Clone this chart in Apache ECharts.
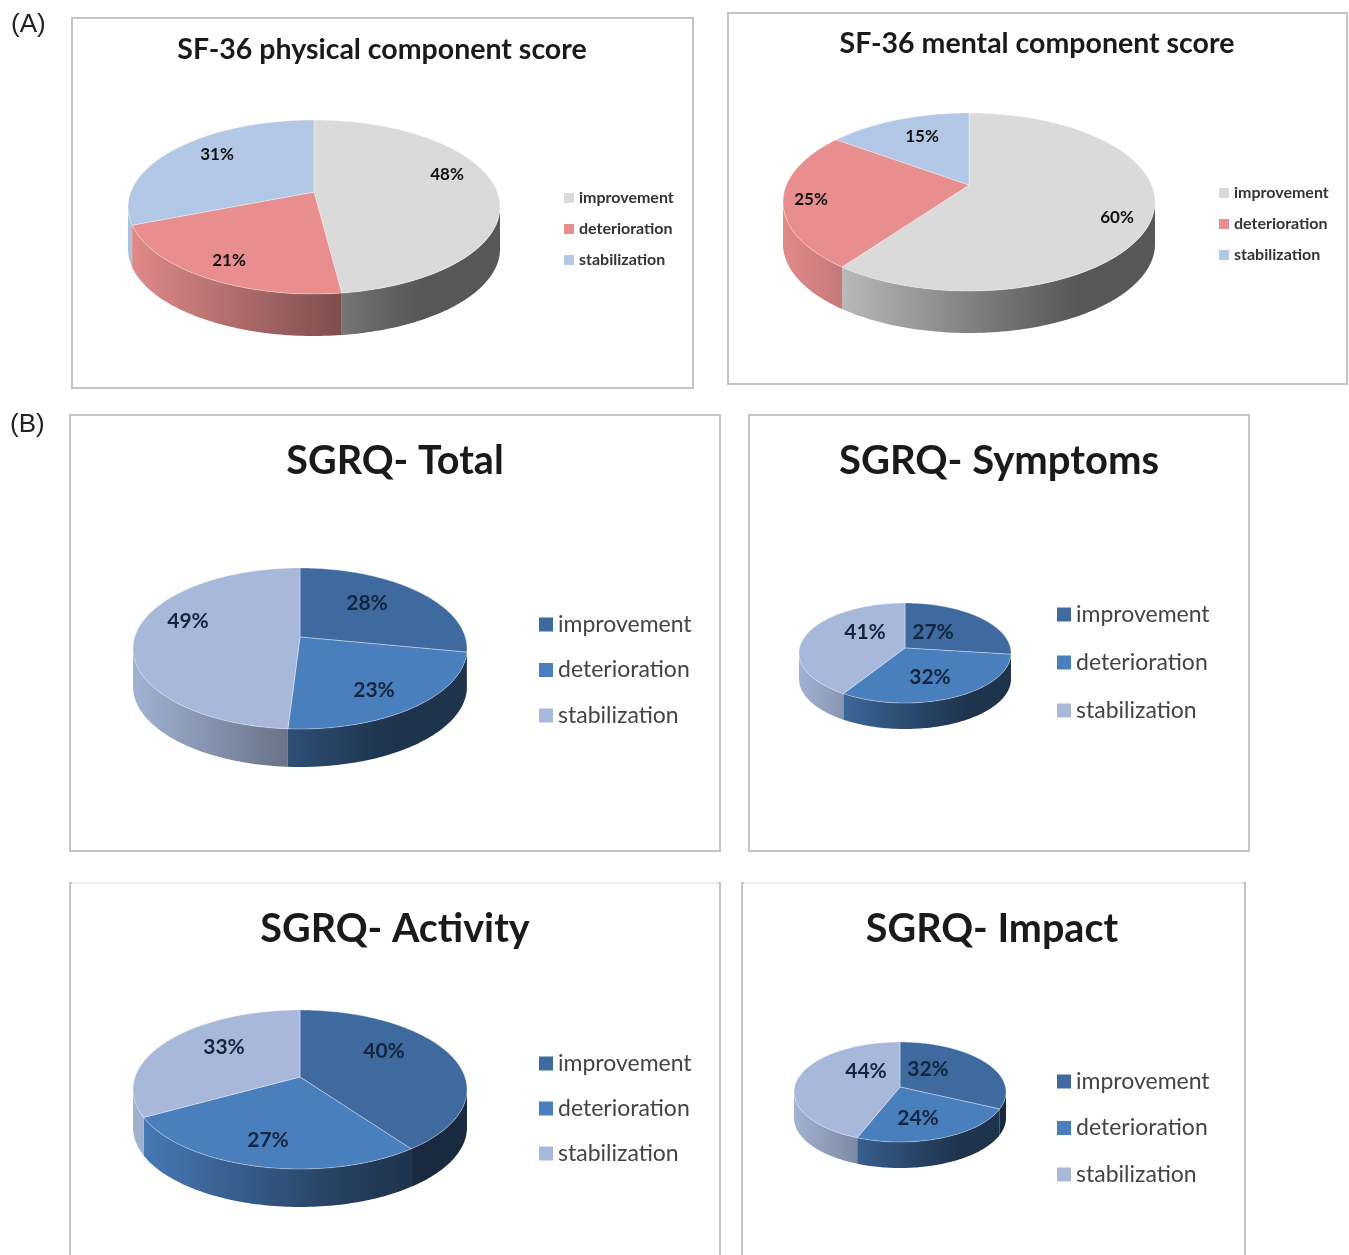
<!DOCTYPE html>
<html>
<head>
<meta charset="utf-8">
<title>SF-36 and SGRQ score changes</title>
<style>
html,body{margin:0;padding:0;background:#fff}
#main{width:1349px;height:1255px}
</style>
<script src="https://cdn.jsdelivr.net/npm/echarts@6/dist/echarts.min.js"></script>
</head>
<body>
<div id="main"></div>
<script>
// Outcome categories shared by every pie
const categories = ['improvement', 'deterioration', 'stabilization'];

// Share of patients per category, in percent
const physicalScore = [48, 21, 31];
const mentalScore = [60, 25, 15];
const sgrqTotal = [28, 23, 49];
const sgrqSymptoms = [27, 32, 41];
const sgrqActivity = [40, 27, 33];
const sgrqImpact = [32, 24, 44];

const warmColors = ['#DADADA', '#E98E8E', '#B3C7E6'];
const coolColors = ['#3E6A9F', '#4A7FBE', '#A8B8DA'];

const FONT = 'Lato';

const warmText = { labelSize: 17, labelWeight: 'bold', labelColor: '#111' };
const coolText = { labelSize: 21, labelWeight: 'bold', labelColor: '#14263f' };
const warmLegend = { gap: 15, icon: 10, size: 16, weight: 'bold', color: '#333' };
const coolLegend = { icon: 14, size: 23, weight: 'normal', color: '#444' };

// Page layout of each panel: frame, pie outline, label anchors, legend placement
const panels = [
  Object.assign({ title: 'SF-36 physical component score', values: physicalScore, colors: warmColors,
    frame: [72, 18, 621, 370], titleAt: [382, 50], titleSize: 28.5,
    pie: { cx: 314, top: 120, apex: 192, bottom: 294, a: 186, depth: 42 },
    labels: [[447, 175], [229, 261], [217, 155]],
    legend: Object.assign({ x: 564, y: 190 }, warmLegend) }, warmText),
  Object.assign({ title: 'SF-36 mental component score', values: mentalScore, colors: warmColors,
    frame: [728, 13, 619, 371], titleAt: [1037, 44], titleSize: 28.5,
    pie: { cx: 969, top: 113, apex: 185, bottom: 291, a: 186, depth: 42 },
    labels: [[1117, 218], [811, 200], [922, 137]],
    legend: Object.assign({ x: 1219, y: 185 }, warmLegend) }, warmText),
  Object.assign({ title: 'SGRQ- Total', values: sgrqTotal, colors: coolColors,
    frame: [70, 415, 650, 436], titleAt: [395, 461], titleSize: 39.5,
    pie: { cx: 300, top: 568, apex: 637, bottom: 729, a: 167, depth: 38 },
    labels: [[367, 603], [374, 690], [188, 621]],
    legend: Object.assign({ x: 539, y: 613, gap: 22.5 }, coolLegend) }, coolText),
  Object.assign({ title: 'SGRQ- Symptoms', values: sgrqSymptoms, colors: coolColors,
    frame: [749, 415, 500, 436], titleAt: [999, 461], titleSize: 40,
    pie: { cx: 905, top: 603, apex: 648, bottom: 703, a: 106, depth: 26 },
    labels: [[933, 632], [930, 677], [865, 632]],
    legend: Object.assign({ x: 1057, y: 603, gap: 25 }, coolLegend) }, coolText),
  Object.assign({ title: 'SGRQ- Activity', values: sgrqActivity, colors: coolColors,
    frame: [70, 883, 650, 400], titleAt: [395, 929], titleSize: 39.5, fadedTop: true,
    pie: { cx: 300, top: 1010, apex: 1077, bottom: 1169, a: 167, depth: 38 },
    labels: [[384, 1051], [268, 1140], [224, 1047]],
    legend: Object.assign({ x: 539, y: 1052, gap: 22 }, coolLegend) }, coolText),
  Object.assign({ title: 'SGRQ- Impact', values: sgrqImpact, colors: coolColors,
    frame: [742, 883, 503, 400], titleAt: [992, 929], titleSize: 39.5, fadedTop: true,
    pie: { cx: 900, top: 1042, apex: 1087, bottom: 1142, a: 106, depth: 26 },
    labels: [[928, 1069], [918, 1118], [866, 1071]],
    legend: Object.assign({ x: 1057, y: 1070, gap: 23.5 }, coolLegend) }, coolText)
];

const TAU = Math.PI * 2;

// Perspective terms of a pie: the near half of the disc is drawn larger than the far half
function perspective(pie) {
  const far = pie.apex - pie.top;
  const near = pie.bottom - pie.apex;
  const q = (near - far) / (near + far);
  return { q: q, h: far * (1 + q), w: pie.a * Math.sqrt(1 - q * q) };
}

// Point on the pie's rim; angle runs clockwise from 12 o'clock
function rim(pie, angle, drop) {
  const p = perspective(pie);
  const u = Math.sin(angle);
  const v = Math.cos(angle);
  const d = 1 + p.q * v;
  return [pie.cx + p.w * u / d, pie.apex - p.h * v / d + drop];
}

function arcPoints(pie, from, to, drop) {
  const steps = Math.max(2, Math.ceil((to - from) / 0.02));
  const pts = [];
  for (let i = 0; i <= steps; i++) pts.push(rim(pie, from + (to - from) * i / steps, drop));
  return pts;
}

function shadeColor(hex, k) {
  const n = parseInt(hex.slice(1), 16);
  const ch = (v) => Math.round(Math.max(0, Math.min(255, v * k)));
  return 'rgb(' + ch(n >> 16) + ',' + ch((n >> 8) & 255) + ',' + ch(n & 255) + ')';
}

// Wall lighting falls off from the left of the pie to the right
function wallShade(pie, x) {
  const t = (x - (pie.cx - pie.a)) / (2 * pie.a);
  return Math.max(0.4, 0.97 - 0.75 * t);
}

function sliceRenderer(panel, index) {
  return function (params, api) {
    const pie = panel.pie;
    const color = panel.colors[index];
    const start = api.value(0) / 100 * TAU;
    const end = start + api.value(1) / 100 * TAU;
    const children = [];

    // The wall runs between the two silhouette points of the rim
    const sideAngle = Math.acos(-perspective(pie).q);
    const wallFrom = Math.max(start, sideAngle);
    const wallTo = Math.min(end, TAU - sideAngle);
    if (wallTo > wallFrom) {
      const upper = arcPoints(pie, wallFrom, wallTo, 0);
      const lower = arcPoints(pie, wallFrom, wallTo, pie.depth).reverse();
      const xs = upper.map((pt) => pt[0]);
      const xMin = Math.min.apply(null, xs);
      const xMax = Math.max.apply(null, xs);
      const stops = [0, 0.25, 0.5, 0.75, 1].map((f) => ({
        offset: f,
        color: shadeColor(color, wallShade(pie, xMin + (xMax - xMin) * f))
      }));
      children.push({
        type: 'polygon', z2: 1,
        shape: { points: upper.concat(lower) },
        style: { fill: new echarts.graphic.LinearGradient(0, 0, 1, 0, stops) }
      });
    }

    children.push({
      type: 'polygon', z2: 2,
      shape: { points: [[pie.cx, pie.apex]].concat(arcPoints(pie, start, end, 0)) },
      style: { fill: color, stroke: 'rgba(255,255,255,0.35)', lineWidth: 1 }
    });

    const at = panel.labels[index];
    children.push({
      type: 'text', z2: 3,
      style: {
        x: at[0], y: at[1], text: api.value(1) + '%',
        align: 'center', verticalAlign: 'middle',
        font: panel.labelWeight + ' ' + panel.labelSize + 'px ' + FONT,
        fill: panel.labelColor
      }
    });
    return { type: 'group', children: children };
  };
}

const series = [];
panels.forEach((panel) => {
  let running = 0;
  panel.values.forEach((value, i) => {
    series.push({
      type: 'custom',
      name: categories[i],
      coordinateSystem: 'none',
      silent: true,
      animation: false,
      data: [[running, value]],
      renderItem: sliceRenderer(panel, i)
    });
    running += value;
  });
});

// Panel frames; the lower row has a barely visible top edge
const frameGraphics = panels.map((p) => ({
  type: 'rect', z: -2, silent: true,
  shape: { x: p.frame[0], y: p.frame[1], width: p.frame[2], height: p.frame[3] },
  style: { fill: '#fff', stroke: '#C4C4C4', lineWidth: 2 }
}));
const fadedEdges = panels.filter((p) => p.fadedTop).map((p) => ({
  type: 'line', z: -1, silent: true,
  shape: { x1: p.frame[0] + 2, y1: p.frame[1], x2: p.frame[0] + p.frame[2] - 2, y2: p.frame[1] },
  style: { stroke: '#EEEEEE', lineWidth: 2 }
}));

const chart = echarts.init(document.getElementById('main'), null, { renderer: 'canvas' });
chart.setOption({
  backgroundColor: '#fff',
  animation: false,
  title: panels.map((p) => ({
    text: p.title,
    left: p.titleAt[0],
    top: p.titleAt[1],
    textAlign: 'center',
    textVerticalAlign: 'middle',
    padding: 0,
    textStyle: { fontFamily: FONT, fontSize: p.titleSize, fontWeight: 'bold', color: '#1a1a1a' }
  })),
  legend: panels.map((p) => ({
    orient: 'vertical',
    left: p.legend.x,
    top: p.legend.y,
    padding: 0,
    selectedMode: false,
    icon: 'rect',
    itemWidth: p.legend.icon,
    itemHeight: p.legend.icon,
    itemGap: p.legend.gap,
    textStyle: { fontFamily: FONT, fontSize: p.legend.size, fontWeight: p.legend.weight, color: p.legend.color },
    data: categories.map((name, i) => ({ name: name, itemStyle: { color: p.colors[i] } }))
  })),
  graphic: frameGraphics.concat(fadedEdges, [
    { type: 'text', silent: true, style: { x: 11, y: 25, text: '(A)', font: '26px "Liberation Sans"', fill: '#222', verticalAlign: 'middle' } },
    { type: 'text', silent: true, style: { x: 10, y: 425, text: '(B)', font: '26px "Liberation Sans"', fill: '#222', verticalAlign: 'middle' } }
  ]),
  series: series
});
</script>
</body>
</html>
